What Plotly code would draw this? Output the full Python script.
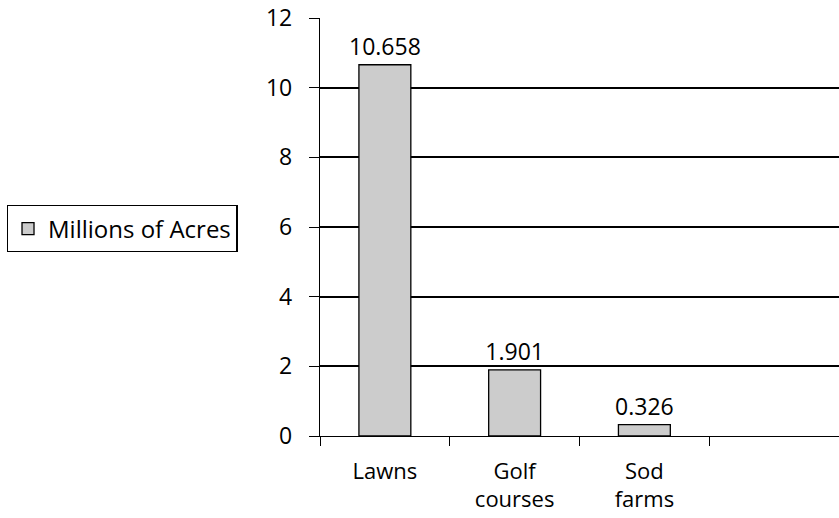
import plotly.graph_objects as go

categories = ["Lawns", "Golf<br>courses", "Sod<br>farms", " "]
acres = [10.658, 1.901, 0.326, None]
labels = ["10.658", "1.901", "0.326", ""]
series_name = "Millions of Acres"
y_ticks = [0, 2, 4, 6, 8, 10, 12]

font = "Open Sans"
fs = 23

fig = go.Figure()
fig.add_trace(go.Bar(
    x=categories, y=acres, name=series_name,
    text=labels, textposition="outside", constraintext="none",
    textfont=dict(size=fs, color="black", family=font),
    cliponaxis=False,
    marker=dict(color="#cccccc", line=dict(color="black", width=1.3)),
    width=0.4,
))

fig.update_layout(
    width=839, height=518,
    margin=dict(l=320, r=0, t=18, b=82, autoexpand=False),
    plot_bgcolor="white", paper_bgcolor="white",
    font=dict(family=font, size=fs, color="black"),
    showlegend=True,
    legend=dict(
        xref="container", yref="container",
        x=0.008, y=0.604, xanchor="left", yanchor="top",
        bordercolor="black", borderwidth=1.3,
        font=dict(size=24), itemwidth=30,
    ),
)
fig.update_xaxes(
    range=[-0.5, 3.5], automargin=False,
    showline=True, linecolor="black", linewidth=1.3,
    ticks="outside", tickson="boundaries", ticklen=9,
    tickcolor="black", tickwidth=1.3, tickfont=dict(size=22),
    showgrid=False, ticklabelstandoff=15,
)
fig.update_yaxes(
    range=[0, 12], tickvals=y_ticks, automargin=False,
    showline=True, linecolor="black", linewidth=1.3,
    ticks="outside", ticklen=10, tickcolor="black", tickwidth=1.3,
    tickfont=dict(size=fs),
    showgrid=True, gridcolor="black", gridwidth=1.5,
    zeroline=False, ticklabelstandoff=12,
)

# drop the page's default body margin so the figure sits at 0,0
fig.write_html(
    "out.html",
    config={"responsive": False, "displayModeBar": False},
    post_script="document.body.style.margin='0';document.body.style.overflow='hidden';",
)
